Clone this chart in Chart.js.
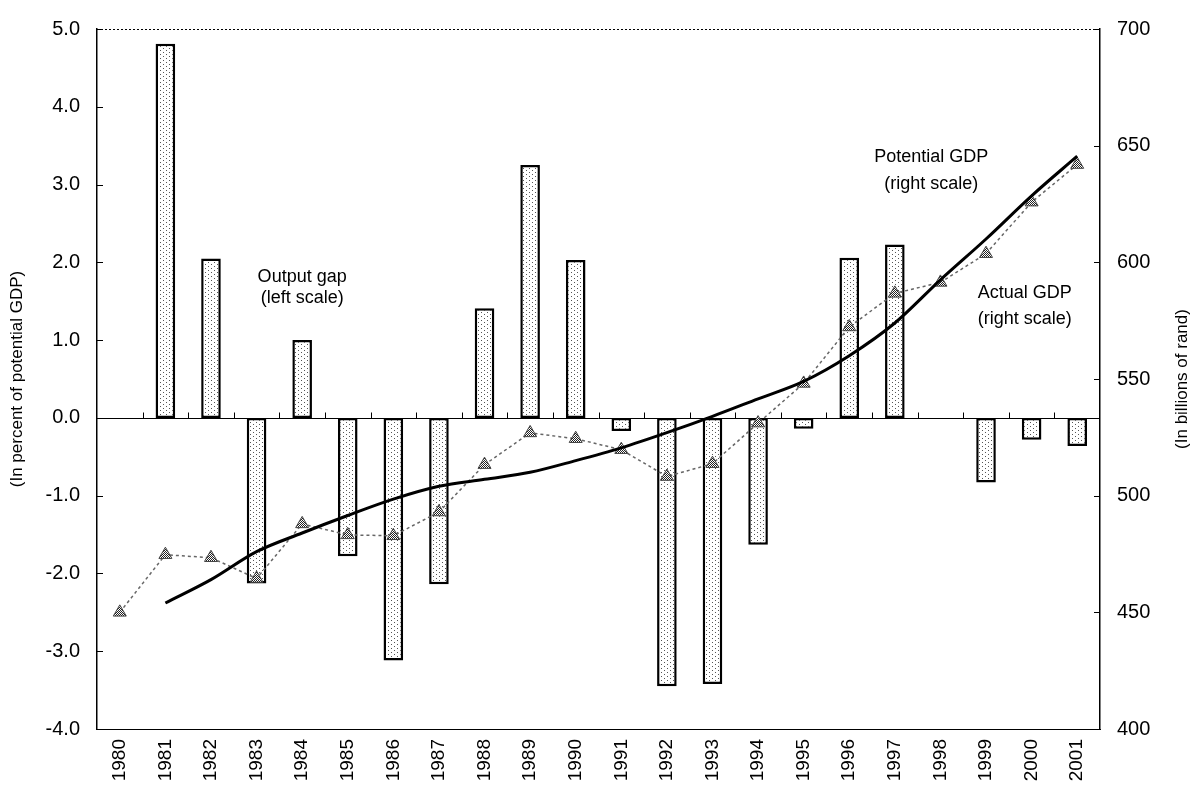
<!DOCTYPE html>
<html>
<head>
<meta charset="utf-8">
<script src="https://cdn.jsdelivr.net/npm/chart.js@4/dist/chart.umd.min.js"></script>
<style>
  html, body { margin: 0; padding: 0; background: #fff; }
  canvas { display: block; }
</style>
</head>
<body>
<canvas id="gdpChart" width="1196" height="801"></canvas>
<script>
// years on the x axis
var years = ["1980","1981","1982","1983","1984","1985","1986","1987","1988","1989","1990",
             "1991","1992","1993","1994","1995","1996","1997","1998","1999","2000","2001"];

// output gap, percent of potential GDP (left scale)
var outputGap = [null, 4.81, 2.05, -2.13, 1.0, -1.78, -3.12, -2.14, 1.41, 3.25, 2.03,
                 -0.17, -3.45, -3.42, -1.63, -0.14, 2.06, 2.23, null, -0.83, -0.28, -0.36];

// potential GDP, billions of rand (right scale)
var potentialGdp = [null, 454, 464, 476, 484, 491.5, 498.5, 504, 507, 510, 515,
                    520.5, 527, 534, 541.5, 549, 560, 574, 592.5, 610, 628.5, 645.5];

// actual GDP, billions of rand (right scale)
var actualGdp = [450, 474.7, 473.4, 464.5, 487.9, 483.2, 482.8, 493, 513.3, 526.9, 524.4,
                 519.7, 508.2, 513.7, 531.1, 548.1, 572.3, 586.7, 591.4, 603.7, 625.8, 641.9];

var leftTicks = [-4, -3, -2, -1, 0, 1, 2, 3, 4, 5];
var rightTicks = [400, 450, 500, 550, 600, 650, 700];

var FONT = "'Liberation Sans', Arial, sans-serif";

// dotted fill for the bars
function dotPattern(){
  var c = document.createElement("canvas");
  c.width = 6; c.height = 4;
  var g = c.getContext("2d");
  g.fillStyle = "#fff";
  g.fillRect(0, 0, 6, 4);
  g.fillStyle = "#555";
  g.fillRect(1, 0, 1, 1);
  g.fillRect(4, 2, 1, 1);
  return g.createPattern(c, "repeat");
}

// cross-hatch fill for the triangle markers
function hatchPattern(){
  var c = document.createElement("canvas");
  c.width = 2; c.height = 2;
  var g = c.getContext("2d");
  g.fillStyle = "#fff";
  g.fillRect(0, 0, 2, 2);
  g.fillStyle = "#222";
  g.fillRect(0, 0, 1, 1);
  g.fillRect(1, 1, 1, 1);
  return g.createPattern(c, "repeat");
}

// frame, zero line, inward ticks and the text labels
var framePlugin = {
  id: "frame",
  beforeDatasetsDraw: function(chart){
    var ctx = chart.ctx, a = chart.chartArea;
    var x = chart.scales.x, yL = chart.scales.yL, yR = chart.scales.yR;
    ctx.save();
    ctx.strokeStyle = "#000";
    ctx.lineWidth = 1;
    // dotted top edge
    ctx.setLineDash([2, 2]);
    ctx.beginPath();
    ctx.moveTo(a.left, a.top + 0.5);
    ctx.lineTo(a.right, a.top + 0.5);
    ctx.stroke();
    ctx.setLineDash([]);
    // zero line with ticks at category boundaries
    var y0 = Math.round(yL.getPixelForValue(0)) + 0.5;
    ctx.beginPath();
    ctx.moveTo(a.left, y0);
    ctx.lineTo(a.right, y0);
    var half = (x.getPixelForValue(1) - x.getPixelForValue(0)) / 2;
    for (var i = 1; i < years.length; i++) {
      var px = Math.round(x.getPixelForValue(i) - half) + 0.5;
      ctx.moveTo(px, y0);
      ctx.lineTo(px, y0 - 6);
    }
    // inward ticks on both value axes
    leftTicks.forEach(function(v){
      var py = Math.round(yL.getPixelForValue(v)) + 0.5;
      ctx.moveTo(a.left, py);
      ctx.lineTo(a.left + 6, py);
    });
    rightTicks.forEach(function(v){
      var py = Math.round(yR.getPixelForValue(v)) + 0.5;
      ctx.moveTo(a.right, py);
      ctx.lineTo(a.right - 6, py);
    });
    ctx.stroke();
    ctx.restore();
  },
  afterDatasetsDraw: function(chart){
    var ctx = chart.ctx, a = chart.chartArea;
    var x = chart.scales.x, yL = chart.scales.yL, yR = chart.scales.yR;
    ctx.save();
    ctx.fillStyle = "#000";
    ctx.font = "18px " + FONT;
    ctx.textAlign = "center";
    ctx.textBaseline = "middle";
    var gx = x.getPixelForValue(4);
    ctx.fillText("Output gap", gx, yL.getPixelForValue(1.81));
    ctx.fillText("(left scale)", gx, yL.getPixelForValue(1.54));
    var px = x.getPixelForValue(17.8);
    ctx.fillText("Potential GDP", px, yR.getPixelForValue(645));
    ctx.fillText("(right scale)", px, yR.getPixelForValue(633.5));
    var ax = x.getPixelForValue(19.85);
    ctx.fillText("Actual GDP", ax, yR.getPixelForValue(587));
    ctx.fillText("(right scale)", ax, yR.getPixelForValue(575.5));
    // right axis title, reading bottom to top
    ctx.font = "17px " + FONT;
    ctx.translate(chart.width - 14, (a.top + a.bottom) / 2);
    ctx.rotate(-Math.PI / 2);
    ctx.fillText("(In billions of rand)", 0, 0);
    ctx.restore();
  }
};

var chart = new Chart(document.getElementById("gdpChart"), {
  type: "bar",
  data: {
    labels: years,
    datasets: [
      {
        type: "line",
        label: "Potential GDP",
        data: potentialGdp,
        yAxisID: "yR",
        borderColor: "#000",
        borderWidth: 3,
        pointRadius: 0,
        cubicInterpolationMode: "monotone",
        order: 1
      },
      {
        type: "line",
        label: "Actual GDP",
        data: actualGdp,
        yAxisID: "yR",
        borderColor: "#666",
        borderWidth: 1.5,
        borderDash: [3, 3],
        pointStyle: "triangle",
        pointRadius: 7.5,
        pointBackgroundColor: hatchPattern(),
        pointBorderColor: "#444",
        pointBorderWidth: 1,
        order: 2
      },
      {
        label: "Output gap",
        data: outputGap,
        yAxisID: "yL",
        backgroundColor: dotPattern(),
        borderColor: "#000",
        borderWidth: 2.5,
        borderSkipped: false,
        categoryPercentage: 1,
        barPercentage: 0.43,
        order: 3
      }
    ]
  },
  options: {
    responsive: false,
    animation: false,
    layout: { padding: { top: 21 } },
    plugins: {
      legend: { display: false },
      tooltip: { enabled: false }
    },
    scales: {
      x: {
        grid: { display: false, drawTicks: false },
        border: { display: true, color: "#000", width: 1, dash: [2, 2] },
        ticks: {
          color: "#000",
          font: { family: FONT, size: 19 },
          minRotation: 90,
          maxRotation: 90,
          padding: 10,
          autoSkip: false
        },
        afterFit: function(s){ s.height = 72; }
      },
      yL: {
        position: "left",
        min: -4,
        max: 5,
        grid: { display: false, drawTicks: false },
        border: { display: true, color: "#000", width: 1.5 },
        ticks: {
          stepSize: 1,
          color: "#000",
          padding: 17,
          font: { family: FONT, size: 20 },
          callback: function(v){ return v.toFixed(1); }
        },
        title: {
          display: true,
          text: "(In percent of potential GDP)",
          color: "#000",
          font: { family: FONT, size: 17 },
          padding: { top: 7, bottom: 0 }
        },
        afterFit: function(s){ s.width = 97; }
      },
      yR: {
        position: "right",
        min: 400,
        max: 700,
        grid: { display: false, drawTicks: false },
        border: { display: true, color: "#000", width: 1.5 },
        ticks: {
          stepSize: 50,
          color: "#000",
          padding: 17,
          font: { family: FONT, size: 20 }
        },
        afterFit: function(s){ s.width = 96; }
      }
    }
  },
  plugins: [framePlugin]
});
</script>
</body>
</html>
